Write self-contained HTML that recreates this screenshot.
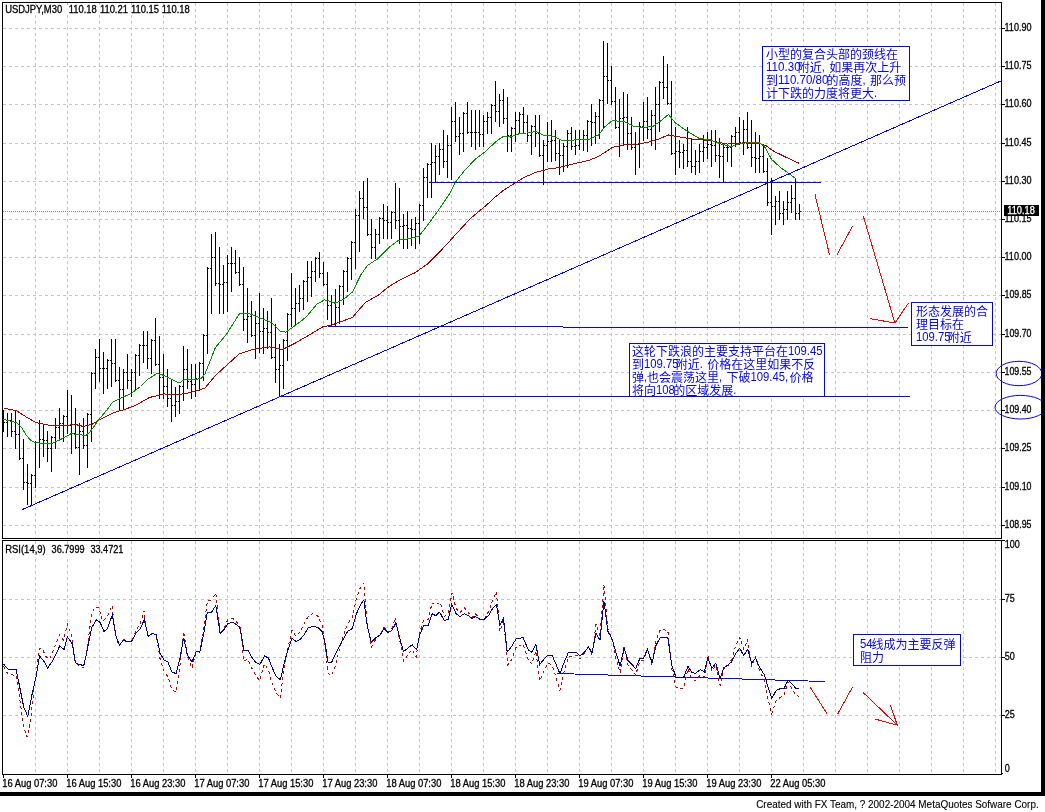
<!DOCTYPE html>
<html><head><meta charset="utf-8"><title>USDJPY M30</title>
<style>html,body{margin:0;padding:0;background:#fff;overflow:hidden}body{width:1045px;height:812px;position:relative}</style>
</head><body>
<svg width="1045" height="812" viewBox="0 0 1045 812" style="position:absolute;left:0;top:0">
<rect width="1045" height="812" fill="#fff"/>
<g shape-rendering="crispEdges" stroke="#c4c4c4" stroke-width="1" stroke-dasharray="3 3" fill="none">
<path d="M35.5 3V538"/>
<path d="M35.5 541V774"/>
<path d="M67.5 3V538"/>
<path d="M67.5 541V774"/>
<path d="M99.5 3V538"/>
<path d="M99.5 541V774"/>
<path d="M131.5 3V538"/>
<path d="M131.5 541V774"/>
<path d="M163.5 3V538"/>
<path d="M163.5 541V774"/>
<path d="M195.5 3V538"/>
<path d="M195.5 541V774"/>
<path d="M227.5 3V538"/>
<path d="M227.5 541V774"/>
<path d="M259.5 3V538"/>
<path d="M259.5 541V774"/>
<path d="M291.5 3V538"/>
<path d="M291.5 541V774"/>
<path d="M323.5 3V538"/>
<path d="M323.5 541V774"/>
<path d="M355.5 3V538"/>
<path d="M355.5 541V774"/>
<path d="M387.5 3V538"/>
<path d="M387.5 541V774"/>
<path d="M419.5 3V538"/>
<path d="M419.5 541V774"/>
<path d="M451.5 3V538"/>
<path d="M451.5 541V774"/>
<path d="M483.5 3V538"/>
<path d="M483.5 541V774"/>
<path d="M515.5 3V538"/>
<path d="M515.5 541V774"/>
<path d="M547.5 3V538"/>
<path d="M547.5 541V774"/>
<path d="M579.5 3V538"/>
<path d="M579.5 541V774"/>
<path d="M611.5 3V538"/>
<path d="M611.5 541V774"/>
<path d="M643.5 3V538"/>
<path d="M643.5 541V774"/>
<path d="M675.5 3V538"/>
<path d="M675.5 541V774"/>
<path d="M707.5 3V538"/>
<path d="M707.5 541V774"/>
<path d="M739.5 3V538"/>
<path d="M739.5 541V774"/>
<path d="M771.5 3V538"/>
<path d="M771.5 541V774"/>
<path d="M803.5 3V538"/>
<path d="M803.5 541V774"/>
<path d="M835.5 3V538"/>
<path d="M835.5 541V774"/>
<path d="M867.5 3V538"/>
<path d="M867.5 541V774"/>
<path d="M899.5 3V538"/>
<path d="M899.5 541V774"/>
<path d="M931.5 3V538"/>
<path d="M931.5 541V774"/>
<path d="M963.5 3V538"/>
<path d="M963.5 541V774"/>
<path d="M995.5 3V538"/>
<path d="M995.5 541V774"/>
<path d="M3 28.5H1001"/>
<path d="M3 66.5H1001"/>
<path d="M3 104.5H1001"/>
<path d="M3 143.5H1001"/>
<path d="M3 181.5H1001"/>
<path d="M3 219.5H1001"/>
<path d="M3 257.5H1001"/>
<path d="M3 295.5H1001"/>
<path d="M3 334.5H1001"/>
<path d="M3 372.5H1001"/>
<path d="M3 410.5H1001"/>
<path d="M3 448.5H1001"/>
<path d="M3 487.5H1001"/>
<path d="M3 525.5H1001"/>
<path d="M3 599.5H1001"/>
<path d="M3 657.5H1001"/>
<path d="M3 715.5H1001"/>
</g>
<path d="M3 211.5H1001" stroke="#8c8c8c" stroke-width="1" stroke-dasharray="1 1" shape-rendering="crispEdges"/>
<g shape-rendering="crispEdges" fill="#000">
<rect x="2" y="2" width="1000" height="1" fill="#000"/>
<rect x="2" y="2" width="1" height="773" fill="#000"/>
<rect x="1001" y="2" width="1" height="773" fill="#000"/>
<rect x="2" y="538" width="1000" height="1" fill="#000"/>
<rect x="2" y="539" width="1000" height="1" fill="#fff"/>
<rect x="2" y="540" width="1000" height="1" fill="#000"/>
<rect x="2" y="774" width="1000" height="1" fill="#000"/>
<rect x="1041" y="0" width="4" height="796"/>
<rect x="0" y="792" width="1045" height="4"/>
<rect x="1002" y="28" width="3" height="1"/>
<rect x="1002" y="66" width="3" height="1"/>
<rect x="1002" y="104" width="3" height="1"/>
<rect x="1002" y="143" width="3" height="1"/>
<rect x="1002" y="181" width="3" height="1"/>
<rect x="1002" y="219" width="3" height="1"/>
<rect x="1002" y="257" width="3" height="1"/>
<rect x="1002" y="295" width="3" height="1"/>
<rect x="1002" y="334" width="3" height="1"/>
<rect x="1002" y="372" width="3" height="1"/>
<rect x="1002" y="410" width="3" height="1"/>
<rect x="1002" y="448" width="3" height="1"/>
<rect x="1002" y="487" width="3" height="1"/>
<rect x="1002" y="525" width="3" height="1"/>
<rect x="1002" y="599" width="3" height="1"/>
<rect x="1002" y="657" width="3" height="1"/>
<rect x="1002" y="715" width="3" height="1"/>
<rect x="1002" y="773" width="1" height="1"/>
<rect x="1002" y="540" width="3" height="1"/>
<rect x="3" y="775" width="1" height="3"/>
<rect x="67" y="775" width="1" height="3"/>
<rect x="131" y="775" width="1" height="3"/>
<rect x="195" y="775" width="1" height="3"/>
<rect x="259" y="775" width="1" height="3"/>
<rect x="323" y="775" width="1" height="3"/>
<rect x="387" y="775" width="1" height="3"/>
<rect x="451" y="775" width="1" height="3"/>
<rect x="515" y="775" width="1" height="3"/>
<rect x="579" y="775" width="1" height="3"/>
<rect x="643" y="775" width="1" height="3"/>
<rect x="707" y="775" width="1" height="3"/>
<rect x="771" y="775" width="1" height="3"/>
</g>
<g shape-rendering="crispEdges" fill="#000">
<rect x="3" y="410" width="1" height="22"/>
<rect x="2" y="420" width="1" height="1"/><rect x="4" y="422" width="1" height="1"/>
<rect x="7" y="413" width="1" height="24"/>
<rect x="6" y="422" width="1" height="1"/><rect x="8" y="420" width="1" height="1"/>
<rect x="11" y="413" width="1" height="24"/>
<rect x="10" y="420" width="1" height="1"/><rect x="12" y="431" width="1" height="1"/>
<rect x="15" y="411" width="1" height="38"/>
<rect x="14" y="431" width="1" height="1"/><rect x="16" y="434" width="1" height="1"/>
<rect x="19" y="420" width="1" height="40"/>
<rect x="18" y="434" width="1" height="1"/><rect x="20" y="458" width="1" height="1"/>
<rect x="23" y="439" width="1" height="51"/>
<rect x="22" y="458" width="1" height="1"/><rect x="24" y="482" width="1" height="1"/>
<rect x="27" y="464" width="1" height="41"/>
<rect x="26" y="482" width="1" height="1"/><rect x="28" y="483" width="1" height="1"/>
<rect x="31" y="474" width="1" height="31"/>
<rect x="30" y="483" width="1" height="1"/><rect x="32" y="475" width="1" height="1"/>
<rect x="35" y="441" width="1" height="47"/>
<rect x="34" y="475" width="1" height="1"/><rect x="36" y="442" width="1" height="1"/>
<rect x="39" y="420" width="1" height="48"/>
<rect x="38" y="442" width="1" height="1"/><rect x="40" y="439" width="1" height="1"/>
<rect x="43" y="425" width="1" height="32"/>
<rect x="42" y="439" width="1" height="1"/><rect x="44" y="440" width="1" height="1"/>
<rect x="47" y="431" width="1" height="31"/>
<rect x="46" y="440" width="1" height="1"/><rect x="48" y="448" width="1" height="1"/>
<rect x="51" y="436" width="1" height="36"/>
<rect x="50" y="448" width="1" height="1"/><rect x="52" y="437" width="1" height="1"/>
<rect x="55" y="418" width="1" height="31"/>
<rect x="54" y="437" width="1" height="1"/><rect x="56" y="427" width="1" height="1"/>
<rect x="59" y="408" width="1" height="32"/>
<rect x="58" y="427" width="1" height="1"/><rect x="60" y="423" width="1" height="1"/>
<rect x="63" y="415" width="1" height="27"/>
<rect x="62" y="423" width="1" height="1"/><rect x="64" y="416" width="1" height="1"/>
<rect x="67" y="390" width="1" height="44"/>
<rect x="66" y="416" width="1" height="1"/><rect x="68" y="425" width="1" height="1"/>
<rect x="71" y="395" width="1" height="59"/>
<rect x="70" y="425" width="1" height="1"/><rect x="72" y="433" width="1" height="1"/>
<rect x="75" y="408" width="1" height="41"/>
<rect x="74" y="433" width="1" height="1"/><rect x="76" y="447" width="1" height="1"/>
<rect x="79" y="423" width="1" height="52"/>
<rect x="78" y="447" width="1" height="1"/><rect x="80" y="431" width="1" height="1"/>
<rect x="83" y="418" width="1" height="31"/>
<rect x="82" y="431" width="1" height="1"/><rect x="84" y="445" width="1" height="1"/>
<rect x="87" y="413" width="1" height="55"/>
<rect x="86" y="445" width="1" height="1"/><rect x="88" y="414" width="1" height="1"/>
<rect x="91" y="372" width="1" height="70"/>
<rect x="90" y="414" width="1" height="1"/><rect x="92" y="373" width="1" height="1"/>
<rect x="95" y="349" width="1" height="40"/>
<rect x="94" y="373" width="1" height="1"/><rect x="96" y="357" width="1" height="1"/>
<rect x="99" y="339" width="1" height="43"/>
<rect x="98" y="357" width="1" height="1"/><rect x="100" y="368" width="1" height="1"/>
<rect x="103" y="352" width="1" height="42"/>
<rect x="102" y="368" width="1" height="1"/><rect x="104" y="368" width="1" height="1"/>
<rect x="107" y="359" width="1" height="30"/>
<rect x="106" y="368" width="1" height="1"/><rect x="108" y="360" width="1" height="1"/>
<rect x="111" y="339" width="1" height="48"/>
<rect x="110" y="360" width="1" height="1"/><rect x="112" y="363" width="1" height="1"/>
<rect x="115" y="339" width="1" height="43"/>
<rect x="114" y="363" width="1" height="1"/><rect x="116" y="380" width="1" height="1"/>
<rect x="119" y="367" width="1" height="43"/>
<rect x="118" y="380" width="1" height="1"/><rect x="120" y="389" width="1" height="1"/>
<rect x="123" y="369" width="1" height="41"/>
<rect x="122" y="389" width="1" height="1"/><rect x="124" y="372" width="1" height="1"/>
<rect x="127" y="354" width="1" height="35"/>
<rect x="126" y="372" width="1" height="1"/><rect x="128" y="380" width="1" height="1"/>
<rect x="131" y="369" width="1" height="28"/>
<rect x="130" y="380" width="1" height="1"/><rect x="132" y="372" width="1" height="1"/>
<rect x="135" y="354" width="1" height="37"/>
<rect x="134" y="372" width="1" height="1"/><rect x="136" y="355" width="1" height="1"/>
<rect x="139" y="344" width="1" height="32"/>
<rect x="138" y="355" width="1" height="1"/><rect x="140" y="345" width="1" height="1"/>
<rect x="143" y="331" width="1" height="32"/>
<rect x="142" y="345" width="1" height="1"/><rect x="144" y="345" width="1" height="1"/>
<rect x="147" y="331" width="1" height="38"/>
<rect x="146" y="345" width="1" height="1"/><rect x="148" y="358" width="1" height="1"/>
<rect x="151" y="339" width="1" height="35"/>
<rect x="150" y="358" width="1" height="1"/><rect x="152" y="340" width="1" height="1"/>
<rect x="155" y="318" width="1" height="48"/>
<rect x="154" y="340" width="1" height="1"/><rect x="156" y="364" width="1" height="1"/>
<rect x="159" y="336" width="1" height="63"/>
<rect x="158" y="364" width="1" height="1"/><rect x="160" y="377" width="1" height="1"/>
<rect x="163" y="354" width="1" height="45"/>
<rect x="162" y="377" width="1" height="1"/><rect x="164" y="386" width="1" height="1"/>
<rect x="167" y="369" width="1" height="38"/>
<rect x="166" y="386" width="1" height="1"/><rect x="168" y="398" width="1" height="1"/>
<rect x="171" y="380" width="1" height="42"/>
<rect x="170" y="398" width="1" height="1"/><rect x="172" y="405" width="1" height="1"/>
<rect x="175" y="387" width="1" height="30"/>
<rect x="174" y="405" width="1" height="1"/><rect x="176" y="401" width="1" height="1"/>
<rect x="179" y="385" width="1" height="29"/>
<rect x="178" y="401" width="1" height="1"/><rect x="180" y="386" width="1" height="1"/>
<rect x="183" y="346" width="1" height="55"/>
<rect x="182" y="386" width="1" height="1"/><rect x="184" y="369" width="1" height="1"/>
<rect x="187" y="349" width="1" height="40"/>
<rect x="186" y="369" width="1" height="1"/><rect x="188" y="381" width="1" height="1"/>
<rect x="191" y="364" width="1" height="35"/>
<rect x="190" y="381" width="1" height="1"/><rect x="192" y="384" width="1" height="1"/>
<rect x="195" y="364" width="1" height="33"/>
<rect x="194" y="384" width="1" height="1"/><rect x="196" y="378" width="1" height="1"/>
<rect x="199" y="362" width="1" height="29"/>
<rect x="198" y="378" width="1" height="1"/><rect x="200" y="363" width="1" height="1"/>
<rect x="203" y="334" width="1" height="47"/>
<rect x="202" y="363" width="1" height="1"/><rect x="204" y="335" width="1" height="1"/>
<rect x="207" y="267" width="1" height="87"/>
<rect x="206" y="335" width="1" height="1"/><rect x="208" y="268" width="1" height="1"/>
<rect x="211" y="234" width="1" height="80"/>
<rect x="210" y="268" width="1" height="1"/><rect x="212" y="257" width="1" height="1"/>
<rect x="215" y="232" width="1" height="54"/>
<rect x="214" y="257" width="1" height="1"/><rect x="216" y="283" width="1" height="1"/>
<rect x="219" y="247" width="1" height="67"/>
<rect x="218" y="283" width="1" height="1"/><rect x="220" y="284" width="1" height="1"/>
<rect x="223" y="265" width="1" height="49"/>
<rect x="222" y="284" width="1" height="1"/><rect x="224" y="282" width="1" height="1"/>
<rect x="227" y="255" width="1" height="57"/>
<rect x="226" y="282" width="1" height="1"/><rect x="228" y="263" width="1" height="1"/>
<rect x="231" y="247" width="1" height="45"/>
<rect x="230" y="263" width="1" height="1"/><rect x="232" y="263" width="1" height="1"/>
<rect x="235" y="250" width="1" height="24"/>
<rect x="234" y="263" width="1" height="1"/><rect x="236" y="272" width="1" height="1"/>
<rect x="239" y="257" width="1" height="29"/>
<rect x="238" y="272" width="1" height="1"/><rect x="240" y="284" width="1" height="1"/>
<rect x="243" y="267" width="1" height="64"/>
<rect x="242" y="284" width="1" height="1"/><rect x="244" y="319" width="1" height="1"/>
<rect x="247" y="288" width="1" height="55"/>
<rect x="246" y="319" width="1" height="1"/><rect x="248" y="316" width="1" height="1"/>
<rect x="251" y="301" width="1" height="36"/>
<rect x="250" y="316" width="1" height="1"/><rect x="252" y="335" width="1" height="1"/>
<rect x="255" y="311" width="1" height="48"/>
<rect x="254" y="335" width="1" height="1"/><rect x="256" y="323" width="1" height="1"/>
<rect x="259" y="293" width="1" height="60"/>
<rect x="258" y="323" width="1" height="1"/><rect x="260" y="331" width="1" height="1"/>
<rect x="263" y="308" width="1" height="46"/>
<rect x="262" y="331" width="1" height="1"/><rect x="264" y="328" width="1" height="1"/>
<rect x="267" y="311" width="1" height="38"/>
<rect x="266" y="328" width="1" height="1"/><rect x="268" y="332" width="1" height="1"/>
<rect x="271" y="298" width="1" height="61"/>
<rect x="270" y="332" width="1" height="1"/><rect x="272" y="357" width="1" height="1"/>
<rect x="275" y="324" width="1" height="59"/>
<rect x="274" y="357" width="1" height="1"/><rect x="276" y="369" width="1" height="1"/>
<rect x="279" y="344" width="1" height="53"/>
<rect x="278" y="369" width="1" height="1"/><rect x="280" y="365" width="1" height="1"/>
<rect x="283" y="339" width="1" height="50"/>
<rect x="282" y="365" width="1" height="1"/><rect x="284" y="340" width="1" height="1"/>
<rect x="287" y="313" width="1" height="48"/>
<rect x="286" y="340" width="1" height="1"/><rect x="288" y="314" width="1" height="1"/>
<rect x="291" y="273" width="1" height="54"/>
<rect x="290" y="314" width="1" height="1"/><rect x="292" y="308" width="1" height="1"/>
<rect x="295" y="288" width="1" height="38"/>
<rect x="294" y="308" width="1" height="1"/><rect x="296" y="303" width="1" height="1"/>
<rect x="299" y="285" width="1" height="27"/>
<rect x="298" y="303" width="1" height="1"/><rect x="300" y="298" width="1" height="1"/>
<rect x="303" y="280" width="1" height="30"/>
<rect x="302" y="298" width="1" height="1"/><rect x="304" y="281" width="1" height="1"/>
<rect x="307" y="261" width="1" height="41"/>
<rect x="306" y="281" width="1" height="1"/><rect x="308" y="277" width="1" height="1"/>
<rect x="311" y="261" width="1" height="36"/>
<rect x="310" y="277" width="1" height="1"/><rect x="312" y="271" width="1" height="1"/>
<rect x="315" y="257" width="1" height="25"/>
<rect x="314" y="271" width="1" height="1"/><rect x="316" y="258" width="1" height="1"/>
<rect x="319" y="252" width="1" height="26"/>
<rect x="318" y="258" width="1" height="1"/><rect x="320" y="273" width="1" height="1"/>
<rect x="323" y="262" width="1" height="24"/>
<rect x="322" y="273" width="1" height="1"/><rect x="324" y="284" width="1" height="1"/>
<rect x="327" y="272" width="1" height="48"/>
<rect x="326" y="284" width="1" height="1"/><rect x="328" y="305" width="1" height="1"/>
<rect x="331" y="295" width="1" height="32"/>
<rect x="330" y="305" width="1" height="1"/><rect x="332" y="302" width="1" height="1"/>
<rect x="335" y="289" width="1" height="38"/>
<rect x="334" y="302" width="1" height="1"/><rect x="336" y="307" width="1" height="1"/>
<rect x="339" y="285" width="1" height="39"/>
<rect x="338" y="307" width="1" height="1"/><rect x="340" y="286" width="1" height="1"/>
<rect x="343" y="270" width="1" height="35"/>
<rect x="342" y="286" width="1" height="1"/><rect x="344" y="271" width="1" height="1"/>
<rect x="347" y="257" width="1" height="35"/>
<rect x="346" y="271" width="1" height="1"/><rect x="348" y="258" width="1" height="1"/>
<rect x="351" y="241" width="1" height="39"/>
<rect x="350" y="258" width="1" height="1"/><rect x="352" y="242" width="1" height="1"/>
<rect x="355" y="209" width="1" height="60"/>
<rect x="354" y="242" width="1" height="1"/><rect x="356" y="215" width="1" height="1"/>
<rect x="359" y="191" width="1" height="61"/>
<rect x="358" y="215" width="1" height="1"/><rect x="360" y="198" width="1" height="1"/>
<rect x="363" y="181" width="1" height="38"/>
<rect x="362" y="198" width="1" height="1"/><rect x="364" y="207" width="1" height="1"/>
<rect x="367" y="178" width="1" height="58"/>
<rect x="366" y="207" width="1" height="1"/><rect x="368" y="234" width="1" height="1"/>
<rect x="371" y="219" width="1" height="40"/>
<rect x="370" y="234" width="1" height="1"/><rect x="372" y="247" width="1" height="1"/>
<rect x="375" y="229" width="1" height="30"/>
<rect x="374" y="247" width="1" height="1"/><rect x="376" y="234" width="1" height="1"/>
<rect x="379" y="217" width="1" height="27"/>
<rect x="378" y="234" width="1" height="1"/><rect x="380" y="218" width="1" height="1"/>
<rect x="383" y="204" width="1" height="35"/>
<rect x="382" y="218" width="1" height="1"/><rect x="384" y="220" width="1" height="1"/>
<rect x="387" y="206" width="1" height="33"/>
<rect x="386" y="220" width="1" height="1"/><rect x="388" y="222" width="1" height="1"/>
<rect x="391" y="211" width="1" height="28"/>
<rect x="390" y="222" width="1" height="1"/><rect x="392" y="212" width="1" height="1"/>
<rect x="395" y="183" width="1" height="46"/>
<rect x="394" y="212" width="1" height="1"/><rect x="396" y="220" width="1" height="1"/>
<rect x="399" y="188" width="1" height="56"/>
<rect x="398" y="220" width="1" height="1"/><rect x="400" y="226" width="1" height="1"/>
<rect x="403" y="214" width="1" height="35"/>
<rect x="402" y="226" width="1" height="1"/><rect x="404" y="225" width="1" height="1"/>
<rect x="407" y="211" width="1" height="38"/>
<rect x="406" y="225" width="1" height="1"/><rect x="408" y="228" width="1" height="1"/>
<rect x="411" y="219" width="1" height="27"/>
<rect x="410" y="228" width="1" height="1"/><rect x="412" y="229" width="1" height="1"/>
<rect x="415" y="217" width="1" height="32"/>
<rect x="414" y="229" width="1" height="1"/><rect x="416" y="223" width="1" height="1"/>
<rect x="419" y="204" width="1" height="40"/>
<rect x="418" y="223" width="1" height="1"/><rect x="420" y="205" width="1" height="1"/>
<rect x="423" y="168" width="1" height="53"/>
<rect x="422" y="205" width="1" height="1"/><rect x="424" y="177" width="1" height="1"/>
<rect x="427" y="163" width="1" height="35"/>
<rect x="426" y="177" width="1" height="1"/><rect x="428" y="164" width="1" height="1"/>
<rect x="431" y="143" width="1" height="55"/>
<rect x="430" y="164" width="1" height="1"/><rect x="432" y="162" width="1" height="1"/>
<rect x="435" y="145" width="1" height="38"/>
<rect x="434" y="162" width="1" height="1"/><rect x="436" y="156" width="1" height="1"/>
<rect x="439" y="143" width="1" height="32"/>
<rect x="438" y="156" width="1" height="1"/><rect x="440" y="149" width="1" height="1"/>
<rect x="443" y="130" width="1" height="38"/>
<rect x="442" y="149" width="1" height="1"/><rect x="444" y="161" width="1" height="1"/>
<rect x="447" y="135" width="1" height="43"/>
<rect x="446" y="161" width="1" height="1"/><rect x="448" y="145" width="1" height="1"/>
<rect x="451" y="107" width="1" height="73"/>
<rect x="450" y="145" width="1" height="1"/><rect x="452" y="121" width="1" height="1"/>
<rect x="455" y="102" width="1" height="40"/>
<rect x="454" y="121" width="1" height="1"/><rect x="456" y="136" width="1" height="1"/>
<rect x="459" y="117" width="1" height="38"/>
<rect x="458" y="136" width="1" height="1"/><rect x="460" y="133" width="1" height="1"/>
<rect x="463" y="112" width="1" height="40"/>
<rect x="462" y="133" width="1" height="1"/><rect x="464" y="113" width="1" height="1"/>
<rect x="467" y="102" width="1" height="32"/>
<rect x="466" y="113" width="1" height="1"/><rect x="468" y="132" width="1" height="1"/>
<rect x="471" y="110" width="1" height="37"/>
<rect x="470" y="132" width="1" height="1"/><rect x="472" y="132" width="1" height="1"/>
<rect x="475" y="110" width="1" height="40"/>
<rect x="474" y="132" width="1" height="1"/><rect x="476" y="132" width="1" height="1"/>
<rect x="479" y="110" width="1" height="37"/>
<rect x="478" y="132" width="1" height="1"/><rect x="480" y="134" width="1" height="1"/>
<rect x="483" y="115" width="1" height="32"/>
<rect x="482" y="134" width="1" height="1"/><rect x="484" y="121" width="1" height="1"/>
<rect x="487" y="112" width="1" height="22"/>
<rect x="486" y="121" width="1" height="1"/><rect x="488" y="117" width="1" height="1"/>
<rect x="491" y="104" width="1" height="30"/>
<rect x="490" y="117" width="1" height="1"/><rect x="492" y="105" width="1" height="1"/>
<rect x="495" y="81" width="1" height="41"/>
<rect x="494" y="105" width="1" height="1"/><rect x="496" y="111" width="1" height="1"/>
<rect x="499" y="94" width="1" height="33"/>
<rect x="498" y="111" width="1" height="1"/><rect x="500" y="100" width="1" height="1"/>
<rect x="503" y="89" width="1" height="35"/>
<rect x="502" y="100" width="1" height="1"/><rect x="504" y="118" width="1" height="1"/>
<rect x="507" y="97" width="1" height="55"/>
<rect x="506" y="118" width="1" height="1"/><rect x="508" y="135" width="1" height="1"/>
<rect x="511" y="127" width="1" height="25"/>
<rect x="510" y="135" width="1" height="1"/><rect x="512" y="128" width="1" height="1"/>
<rect x="515" y="112" width="1" height="30"/>
<rect x="514" y="128" width="1" height="1"/><rect x="516" y="120" width="1" height="1"/>
<rect x="519" y="112" width="1" height="22"/>
<rect x="518" y="120" width="1" height="1"/><rect x="520" y="114" width="1" height="1"/>
<rect x="523" y="107" width="1" height="27"/>
<rect x="522" y="114" width="1" height="1"/><rect x="524" y="122" width="1" height="1"/>
<rect x="527" y="115" width="1" height="27"/>
<rect x="526" y="122" width="1" height="1"/><rect x="528" y="135" width="1" height="1"/>
<rect x="531" y="125" width="1" height="30"/>
<rect x="530" y="135" width="1" height="1"/><rect x="532" y="126" width="1" height="1"/>
<rect x="535" y="115" width="1" height="32"/>
<rect x="534" y="126" width="1" height="1"/><rect x="536" y="133" width="1" height="1"/>
<rect x="539" y="115" width="1" height="42"/>
<rect x="538" y="133" width="1" height="1"/><rect x="540" y="155" width="1" height="1"/>
<rect x="543" y="140" width="1" height="45"/>
<rect x="542" y="155" width="1" height="1"/><rect x="544" y="145" width="1" height="1"/>
<rect x="547" y="122" width="1" height="40"/>
<rect x="546" y="145" width="1" height="1"/><rect x="548" y="141" width="1" height="1"/>
<rect x="551" y="120" width="1" height="42"/>
<rect x="550" y="141" width="1" height="1"/><rect x="552" y="140" width="1" height="1"/>
<rect x="555" y="130" width="1" height="31"/>
<rect x="554" y="140" width="1" height="1"/><rect x="556" y="153" width="1" height="1"/>
<rect x="559" y="139" width="1" height="36"/>
<rect x="558" y="153" width="1" height="1"/><rect x="560" y="155" width="1" height="1"/>
<rect x="563" y="143" width="1" height="29"/>
<rect x="562" y="155" width="1" height="1"/><rect x="564" y="146" width="1" height="1"/>
<rect x="567" y="130" width="1" height="38"/>
<rect x="566" y="146" width="1" height="1"/><rect x="568" y="133" width="1" height="1"/>
<rect x="571" y="127" width="1" height="23"/>
<rect x="570" y="133" width="1" height="1"/><rect x="572" y="146" width="1" height="1"/>
<rect x="575" y="130" width="1" height="25"/>
<rect x="574" y="146" width="1" height="1"/><rect x="576" y="145" width="1" height="1"/>
<rect x="579" y="130" width="1" height="20"/>
<rect x="578" y="145" width="1" height="1"/><rect x="580" y="139" width="1" height="1"/>
<rect x="583" y="130" width="1" height="21"/>
<rect x="582" y="139" width="1" height="1"/><rect x="584" y="135" width="1" height="1"/>
<rect x="587" y="120" width="1" height="32"/>
<rect x="586" y="135" width="1" height="1"/><rect x="588" y="121" width="1" height="1"/>
<rect x="591" y="104" width="1" height="42"/>
<rect x="590" y="121" width="1" height="1"/><rect x="592" y="122" width="1" height="1"/>
<rect x="595" y="112" width="1" height="32"/>
<rect x="594" y="122" width="1" height="1"/><rect x="596" y="116" width="1" height="1"/>
<rect x="599" y="99" width="1" height="40"/>
<rect x="598" y="116" width="1" height="1"/><rect x="600" y="100" width="1" height="1"/>
<rect x="603" y="41" width="1" height="88"/>
<rect x="602" y="100" width="1" height="1"/><rect x="604" y="76" width="1" height="1"/>
<rect x="607" y="43" width="1" height="61"/>
<rect x="606" y="76" width="1" height="1"/><rect x="608" y="80" width="1" height="1"/>
<rect x="611" y="66" width="1" height="39"/>
<rect x="610" y="80" width="1" height="1"/><rect x="612" y="101" width="1" height="1"/>
<rect x="615" y="87" width="1" height="42"/>
<rect x="614" y="101" width="1" height="1"/><rect x="616" y="127" width="1" height="1"/>
<rect x="619" y="99" width="1" height="58"/>
<rect x="618" y="127" width="1" height="1"/><rect x="620" y="118" width="1" height="1"/>
<rect x="623" y="92" width="1" height="54"/>
<rect x="622" y="118" width="1" height="1"/><rect x="624" y="117" width="1" height="1"/>
<rect x="627" y="94" width="1" height="56"/>
<rect x="626" y="117" width="1" height="1"/><rect x="628" y="133" width="1" height="1"/>
<rect x="631" y="117" width="1" height="33"/>
<rect x="630" y="133" width="1" height="1"/><rect x="632" y="147" width="1" height="1"/>
<rect x="635" y="132" width="1" height="43"/>
<rect x="634" y="147" width="1" height="1"/><rect x="636" y="144" width="1" height="1"/>
<rect x="639" y="122" width="1" height="46"/>
<rect x="638" y="144" width="1" height="1"/><rect x="640" y="126" width="1" height="1"/>
<rect x="643" y="102" width="1" height="39"/>
<rect x="642" y="126" width="1" height="1"/><rect x="644" y="121" width="1" height="1"/>
<rect x="647" y="97" width="1" height="42"/>
<rect x="646" y="121" width="1" height="1"/><rect x="648" y="129" width="1" height="1"/>
<rect x="651" y="110" width="1" height="36"/>
<rect x="650" y="129" width="1" height="1"/><rect x="652" y="115" width="1" height="1"/>
<rect x="655" y="87" width="1" height="63"/>
<rect x="654" y="115" width="1" height="1"/><rect x="656" y="104" width="1" height="1"/>
<rect x="659" y="81" width="1" height="51"/>
<rect x="658" y="104" width="1" height="1"/><rect x="660" y="82" width="1" height="1"/>
<rect x="663" y="56" width="1" height="43"/>
<rect x="662" y="82" width="1" height="1"/><rect x="664" y="87" width="1" height="1"/>
<rect x="667" y="64" width="1" height="41"/>
<rect x="666" y="87" width="1" height="1"/><rect x="668" y="103" width="1" height="1"/>
<rect x="671" y="81" width="1" height="74"/>
<rect x="670" y="103" width="1" height="1"/><rect x="672" y="153" width="1" height="1"/>
<rect x="675" y="127" width="1" height="48"/>
<rect x="674" y="153" width="1" height="1"/><rect x="676" y="151" width="1" height="1"/>
<rect x="679" y="140" width="1" height="28"/>
<rect x="678" y="151" width="1" height="1"/><rect x="680" y="152" width="1" height="1"/>
<rect x="683" y="144" width="1" height="25"/>
<rect x="682" y="152" width="1" height="1"/><rect x="684" y="150" width="1" height="1"/>
<rect x="687" y="127" width="1" height="40"/>
<rect x="686" y="150" width="1" height="1"/><rect x="688" y="161" width="1" height="1"/>
<rect x="691" y="139" width="1" height="34"/>
<rect x="690" y="161" width="1" height="1"/><rect x="692" y="166" width="1" height="1"/>
<rect x="695" y="150" width="1" height="25"/>
<rect x="694" y="166" width="1" height="1"/><rect x="696" y="161" width="1" height="1"/>
<rect x="699" y="144" width="1" height="29"/>
<rect x="698" y="161" width="1" height="1"/><rect x="700" y="151" width="1" height="1"/>
<rect x="703" y="135" width="1" height="27"/>
<rect x="702" y="151" width="1" height="1"/><rect x="704" y="147" width="1" height="1"/>
<rect x="707" y="132" width="1" height="27"/>
<rect x="706" y="147" width="1" height="1"/><rect x="708" y="144" width="1" height="1"/>
<rect x="711" y="130" width="1" height="37"/>
<rect x="710" y="144" width="1" height="1"/><rect x="712" y="145" width="1" height="1"/>
<rect x="715" y="130" width="1" height="32"/>
<rect x="714" y="145" width="1" height="1"/><rect x="716" y="155" width="1" height="1"/>
<rect x="719" y="138" width="1" height="40"/>
<rect x="718" y="155" width="1" height="1"/><rect x="720" y="156" width="1" height="1"/>
<rect x="723" y="143" width="1" height="40"/>
<rect x="722" y="156" width="1" height="1"/><rect x="724" y="147" width="1" height="1"/>
<rect x="727" y="145" width="1" height="17"/>
<rect x="726" y="147" width="1" height="1"/><rect x="728" y="147" width="1" height="1"/>
<rect x="731" y="135" width="1" height="32"/>
<rect x="730" y="147" width="1" height="1"/><rect x="732" y="136" width="1" height="1"/>
<rect x="735" y="127" width="1" height="20"/>
<rect x="734" y="136" width="1" height="1"/><rect x="736" y="132" width="1" height="1"/>
<rect x="739" y="117" width="1" height="28"/>
<rect x="738" y="132" width="1" height="1"/><rect x="740" y="142" width="1" height="1"/>
<rect x="743" y="120" width="1" height="35"/>
<rect x="742" y="142" width="1" height="1"/><rect x="744" y="129" width="1" height="1"/>
<rect x="747" y="112" width="1" height="37"/>
<rect x="746" y="129" width="1" height="1"/><rect x="748" y="147" width="1" height="1"/>
<rect x="751" y="120" width="1" height="47"/>
<rect x="750" y="147" width="1" height="1"/><rect x="752" y="157" width="1" height="1"/>
<rect x="755" y="132" width="1" height="41"/>
<rect x="754" y="157" width="1" height="1"/><rect x="756" y="158" width="1" height="1"/>
<rect x="759" y="135" width="1" height="38"/>
<rect x="758" y="158" width="1" height="1"/><rect x="760" y="156" width="1" height="1"/>
<rect x="763" y="145" width="1" height="28"/>
<rect x="762" y="156" width="1" height="1"/><rect x="764" y="171" width="1" height="1"/>
<rect x="767" y="158" width="1" height="48"/>
<rect x="766" y="171" width="1" height="1"/><rect x="768" y="202" width="1" height="1"/>
<rect x="771" y="178" width="1" height="57"/>
<rect x="770" y="202" width="1" height="1"/><rect x="772" y="206" width="1" height="1"/>
<rect x="775" y="196" width="1" height="29"/>
<rect x="774" y="206" width="1" height="1"/><rect x="776" y="201" width="1" height="1"/>
<rect x="779" y="191" width="1" height="29"/>
<rect x="778" y="201" width="1" height="1"/><rect x="780" y="213" width="1" height="1"/>
<rect x="783" y="201" width="1" height="24"/>
<rect x="782" y="213" width="1" height="1"/><rect x="784" y="209" width="1" height="1"/>
<rect x="787" y="191" width="1" height="29"/>
<rect x="786" y="209" width="1" height="1"/><rect x="788" y="202" width="1" height="1"/>
<rect x="791" y="185" width="1" height="28"/>
<rect x="790" y="202" width="1" height="1"/><rect x="792" y="198" width="1" height="1"/>
<rect x="795" y="178" width="1" height="42"/>
<rect x="794" y="198" width="1" height="1"/><rect x="796" y="213" width="1" height="1"/>
<rect x="799" y="204" width="1" height="16"/>
<rect x="798" y="213" width="1" height="1"/><rect x="800" y="211" width="1" height="1"/>
</g>
<g shape-rendering="crispEdges">
<polyline points="3.5,407.9 16.5,410.8 24.5,415.9 35.7,422.5 51.7,425.8 64.5,425.5 75.5,424.5 83.5,426.5 91.9,424.3 99.3,419.9 114.1,412.5 124.5,409.5 136.2,405.1 149.5,397.5 164.3,394.0 179.1,394.5 190.5,392.5 204.8,388.3 215.5,375.4 226.4,365.5 239.3,353.8 252.2,349.5 269.5,346.9 282.5,349.5 295.4,343.0 308.3,335.5 323.4,326.5 330.5,325.5 339.5,322.2 352.4,317.5 365.3,302.5 378.2,295.3 389.0,286.5 399.5,280.2 414.5,273.0 427.5,264.0 438.5,253.2 449.4,241.4 456.5,233.5 470.5,218.5 486.1,205.5 494.1,198.0 503.8,190.0 515.0,183.1 524.5,177.2 535.8,172.4 550.5,168.4 557.3,167.9 573.1,163.9 588.8,160.5 598.5,156.5 612.5,147.4 624.3,144.8 636.1,144.4 647.9,142.3 657.5,139.5 668.5,135.0 680.2,137.1 691.5,139.0 710.5,140.5 727.0,144.1 743.5,142.9 759.5,143.5 766.5,146.0 773.5,151.1 785.5,157.0 799.1,163.3" fill="none" stroke="#a80000" stroke-width="1" />
<polyline points="3.5,419.5 16.5,422.5 21.3,427.1 26.1,435.1 30.9,440.5 35.5,442.8 51.5,443.9 61.3,439.1 70.9,433.8 78.9,434.3 85.3,435.9 90.1,431.9 99.3,419.1 108.1,408.5 112.5,402.1 120.0,398.5 131.5,393.3 140.5,386.5 148.0,379.2 156.9,373.5 164.3,375.5 171.5,379.2 179.1,382.9 185.0,379.5 195.3,379.5 201.2,378.5 204.8,374.3 215.5,347.3 226.4,334.4 239.3,313.9 250.1,313.9 260.9,318.2 271.5,322.5 280.3,331.1 285.5,332.2 295.4,325.5 306.1,317.1 316.9,304.2 324.5,299.9 330.5,301.5 335.1,303.2 343.5,299.5 352.4,292.0 361.0,274.5 367.5,265.5 378.2,258.5 389.0,247.5 398.5,240.3 410.5,238.5 419.2,236.0 427.5,225.2 438.5,210.1 449.3,194.0 455.7,182.0 463.7,171.5 474.9,159.5 484.5,152.3 495.7,141.9 503.8,136.0 510.2,137.1 519.8,133.5 529.4,132.8 535.8,131.5 543.8,135.5 550.5,136.0 553.4,136.3 563.2,140.9 575.0,139.9 588.8,139.5 598.5,135.0 604.5,127.1 612.5,120.5 624.3,121.8 634.1,126.5 644.0,127.5 653.5,126.1 661.5,120.2 668.5,114.5 675.5,123.0 687.2,131.2 698.9,138.3 710.5,139.9 722.3,144.5 731.5,146.5 741.0,143.5 750.5,142.2 759.5,142.9 764.5,146.5 771.5,159.3 780.5,167.5 790.2,174.5 796.5,179.2" fill="none" stroke="#009000" stroke-width="1" />
</g>
<g shape-rendering="crispEdges" stroke="#0000ff" stroke-width="1" fill="none">
<path d="M22.5 509.5L1001 80.9"/>
<path d="M429 182.5H821"/>
<path d="M328 326.6L908 327.6"/>
<path d="M279 396.5H910"/>
<path d="M557.5 673.5L825 681.5"/>
</g>
<g stroke="#0000ff" stroke-width="1" fill="none">
<ellipse cx="1019" cy="373.5" rx="22.8" ry="12.2"/>
<ellipse cx="1020.5" cy="407.2" rx="25.5" ry="11.8"/>
</g>
<rect x="1041" y="0" width="4" height="796" fill="#000"/>
<g shape-rendering="crispEdges" stroke="#ff0000" stroke-width="1" fill="none">
<path d="M815 194.5L829.7 255.4"/>
<path d="M837 254.8L852.7 225.8"/>
<path d="M863.3 216L894.9 323M870.3 318.7L894.9 323L908.5 303"/>
<path d="M810 687L827.3 714.2"/>
<path d="M837.6 714.2L852.5 687"/>
<path d="M862.9 692.3L897.3 725.2M875.5 719.2L897.3 725.2L890.4 705"/>
</g>
<g shape-rendering="crispEdges">
<polyline points="3.5,666.5 8.1,674.2 16.1,675.5 20.2,702.0 23.7,727.2 27.0,737.3 30.3,722.2 34.5,684.3 39.5,649.0 42.1,648.5 45.9,656.5 49.7,659.1 54.8,646.5 59.8,634.4 63.5,640.2 67.4,624.3 71.2,633.9 74.9,661.5 80.0,666.2 83.8,667.9 87.5,646.5 91.3,616.2 95.1,606.5 98.9,608.1 102.7,621.2 107.5,616.2 112.0,605.5 115.3,633.9 119.1,646.5 123.5,639.5 127.9,641.5 131.5,641.5 136.4,629.5 140.4,623.5 143.9,610.7 147.8,636.3 152.2,633.0 156.1,634.4 160.1,659.0 164.0,670.8 167.9,676.7 171.9,689.5 175.8,692.1 179.8,666.9 183.7,631.8 187.5,657.0 192.0,667.9 196.5,651.1 199.8,651.5 203.4,631.4 207.3,601.5 211.3,599.9 215.8,593.0 220.1,633.8 224.1,627.5 228.0,619.5 232.9,618.5 237.9,623.5 240.5,628.5 243.8,661.0 247.7,659.0 251.7,667.9 255.5,674.8 259.5,680.7 264.5,663.9 268.4,669.8 272.3,684.5 276.3,692.9 280.2,698.0 283.8,670.8 288.1,647.2 292.0,630.5 296.0,636.3 300.4,631.4 304.4,623.5 308.3,616.1 313.2,613.3 318.2,616.5 322.1,625.5 325.1,645.2 328.0,672.8 331.0,675.7 334.9,667.9 337.9,655.1 342.8,637.3 347.7,623.5 352.2,617.5 356.5,597.9 360.5,587.1 363.9,583.2 366.8,621.5 371.3,647.2 376.3,638.3 380.2,634.4 383.8,627.1 388.1,632.4 392.0,628.5 395.5,617.5 399.5,639.3 403.9,661.0 407.8,655.1 412.1,649.2 416.1,657.0 419.5,633.4 423.5,620.5 428.5,619.2 432.0,602.9 435.8,604.8 440.3,602.3 444.2,616.5 448.2,612.7 452.1,593.0 456.1,608.8 460.0,612.7 464.4,607.8 468.4,612.7 472.3,617.5 475.3,613.7 480.2,619.2 484.1,619.5 489.1,610.7 493.0,598.9 496.4,592.0 499.9,631.5 503.5,619.5 507.8,664.9 512.1,659.0 516.1,647.2 523.1,644.2 528.5,660.0 531.8,663.9 535.8,651.1 539.7,680.7 544.2,670.8 548.2,662.9 552.1,664.9 560.0,690.5 563.9,672.8 568.3,657.0 576.7,655.1 580.1,659.0 584.5,653.1 588.5,646.2 591.9,655.1 596.0,624.5 600.0,635.4 603.9,584.5 607.9,628.5 612.2,640.3 616.1,659.0 620.1,672.8 624.0,647.2 627.9,665.1 635.7,675.0 639.7,661.2 643.5,660.2 647.5,648.3 652.1,665.1 656.0,640.5 660.0,630.5 663.9,629.2 667.9,631.5 671.8,669.0 675.8,686.8 679.7,689.1 683.5,688.4 688.0,669.0 691.9,678.9 695.5,680.5 700.4,675.0 704.3,676.9 707.9,655.5 711.8,671.0 715.8,665.1 720.1,685.8 723.5,669.0 728.0,665.5 731.9,659.2 735.9,645.4 739.8,637.1 743.7,649.3 747.7,639.9 751.5,666.1 755.5,657.2 759.5,671.0 764.5,679.9 767.8,698.5 771.7,714.0 776.3,700.5 780.2,697.5 784.1,694.5 788.1,681.9 792.0,688.7 796.0,695.1 799.3,696.5" fill="none" stroke="#c80000" stroke-width="1" stroke-dasharray="3 3"/>
<polyline points="3.5,664.1 8.1,669.2 16.1,669.2 20.2,689.4 23.7,707.0 27.8,716.5 32.0,694.5 35.8,678.0 39.5,656.1 43.4,660.4 47.7,667.9 52.2,661.5 59.8,646.0 64.1,649.5 67.4,636.9 72.4,644.0 75.5,662.9 79.2,664.5 83.8,665.5 87.5,649.0 91.8,627.5 96.4,620.0 100.2,622.5 104.0,631.5 107.5,628.5 112.3,614.9 116.1,636.5 119.5,645.2 123.5,640.2 127.9,641.9 131.5,641.5 136.4,632.4 140.4,628.5 144.3,619.5 148.2,636.3 152.2,633.8 156.1,634.4 160.1,653.1 164.0,660.0 167.9,662.0 171.9,671.8 176.2,673.8 179.8,659.0 183.7,637.7 187.5,655.1 192.0,662.0 196.5,651.1 199.8,652.1 203.4,635.4 207.3,612.7 211.3,612.7 215.8,605.5 220.1,633.4 224.1,629.5 228.0,623.5 232.9,622.5 237.9,625.5 240.5,629.5 243.8,650.1 247.7,650.1 251.7,657.0 255.5,662.0 259.9,664.5 264.5,656.0 268.4,658.0 272.3,667.9 276.3,676.7 280.5,679.7 284.2,662.9 288.1,649.2 292.0,638.3 296.0,641.3 300.4,639.3 304.4,634.4 308.3,627.5 313.2,626.5 318.2,627.5 322.1,631.4 325.1,643.2 328.0,662.0 331.4,662.9 335.9,653.1 340.8,643.2 347.7,631.4 352.2,628.5 356.5,613.7 360.5,604.8 363.9,599.9 366.8,623.5 371.3,642.3 376.3,637.3 380.2,635.0 383.8,628.5 388.1,632.4 392.0,630.4 396.0,622.5 399.5,637.3 403.5,651.5 407.8,648.2 412.1,644.8 416.7,649.5 419.5,635.4 423.5,625.9 428.5,625.1 432.0,613.7 435.8,615.7 439.7,612.1 444.2,620.5 448.2,619.5 451.7,604.2 456.1,613.7 460.0,616.5 464.4,613.7 468.4,615.7 472.3,618.5 475.3,616.5 480.2,619.5 484.1,619.5 489.1,614.7 493.0,607.8 496.4,604.8 499.9,625.5 503.5,618.5 507.2,652.1 511.7,646.2 516.1,638.9 523.1,637.7 528.5,650.1 531.8,652.1 535.8,644.2 539.7,664.5 544.2,659.0 548.2,655.1 552.1,655.1 560.0,673.8 563.9,662.9 568.3,652.7 576.7,652.7 580.1,656.0 584.5,652.1 588.5,646.8 591.9,653.1 596.0,633.4 600.0,640.3 603.9,600.9 607.9,631.4 612.2,639.3 616.1,653.1 620.1,665.9 624.0,648.2 627.9,660.2 635.7,668.5 639.7,658.8 643.5,658.2 647.5,649.3 652.1,662.7 656.0,645.4 660.0,637.9 667.9,637.9 671.8,665.1 676.2,677.9 683.5,677.9 688.0,666.1 691.9,672.5 695.5,673.4 700.4,669.5 704.3,672.0 707.9,657.5 711.8,668.5 715.8,663.1 720.1,678.5 723.5,668.1 728.0,665.1 731.9,661.5 735.9,653.3 739.8,648.3 743.7,655.5 747.7,649.3 751.5,663.1 755.5,658.2 759.5,667.1 764.5,675.0 767.8,686.8 771.7,698.5 776.3,690.3 780.2,688.7 784.1,688.4 788.1,679.9 792.0,683.8 796.0,688.7 799.3,688.7" fill="none" stroke="#000090" stroke-width="1" />
</g>
<rect x="762.5" y="46.5" width="147" height="54" fill="#fff" stroke="#0000ff" stroke-width="1" shape-rendering="crispEdges"/>
<rect x="911.5" y="302.5" width="81" height="43" fill="#fff" stroke="#0000ff" stroke-width="1" shape-rendering="crispEdges"/>
<rect x="629.5" y="343.5" width="195" height="53" fill="#fff" stroke="#0000ff" stroke-width="1" shape-rendering="crispEdges"/>
<rect x="853.5" y="634.5" width="107" height="31" fill="#fff" stroke="#0000ff" stroke-width="1" shape-rendering="crispEdges"/>
<text y="58.5" font-family="'Liberation Sans','Noto Sans CJK SC',sans-serif" font-size="12" fill="#0000ff" style="white-space:pre"><tspan x="766.0" y="58.5">小型的复合头部的颈线在</tspan></text>
<text y="71.5" font-family="'Liberation Sans','Noto Sans CJK SC',sans-serif" font-size="12" fill="#0000ff" style="white-space:pre"><tspan x="766.0" y="71.1" font-size="12.4" textLength="34.6" lengthAdjust="spacingAndGlyphs">110.30</tspan><tspan x="797.8" y="71.5">附近</tspan><tspan x="821.8" y="71.1" font-size="12.4" textLength="3.1" lengthAdjust="spacingAndGlyphs">,</tspan><tspan font-size="10"> </tspan><tspan x="829.3" y="71.5">如果再次上升</tspan></text>
<text y="84.5" font-family="'Liberation Sans','Noto Sans CJK SC',sans-serif" font-size="12" fill="#0000ff" style="white-space:pre"><tspan x="766.0" y="84.5">到</tspan><tspan x="778.0" y="84.1" font-size="12.4" textLength="50.3" lengthAdjust="spacingAndGlyphs">110.70/80</tspan><tspan x="826.4" y="84.5">的高度</tspan><tspan x="862.4" y="84.1" font-size="12.4" textLength="3.1" lengthAdjust="spacingAndGlyphs">,</tspan><tspan font-size="10"> </tspan><tspan x="869.9" y="84.5">那么预</tspan></text>
<text y="97.5" font-family="'Liberation Sans','Noto Sans CJK SC',sans-serif" font-size="12" fill="#0000ff" style="white-space:pre"><tspan x="766.0" y="97.5">计下跌的力度将更大</tspan><tspan x="874.0" y="97.1" font-size="12.4" textLength="3.1" lengthAdjust="spacingAndGlyphs">.</tspan></text>
<text y="315.5" font-family="'Liberation Sans','Noto Sans CJK SC',sans-serif" font-size="12" fill="#0000ff" style="white-space:pre"><tspan x="916.0" y="315.5">形态发展的合</tspan></text>
<text y="328.5" font-family="'Liberation Sans','Noto Sans CJK SC',sans-serif" font-size="12" fill="#0000ff" style="white-space:pre"><tspan x="916.0" y="328.5">理目标在</tspan></text>
<text y="341.5" font-family="'Liberation Sans','Noto Sans CJK SC',sans-serif" font-size="12" fill="#0000ff" style="white-space:pre"><tspan x="916.0" y="341.1" font-size="12.4" textLength="34.6" lengthAdjust="spacingAndGlyphs">109.75</tspan><tspan x="947.8" y="341.5">附近</tspan></text>
<text y="355.5" font-family="'Liberation Sans','Noto Sans CJK SC',sans-serif" font-size="12" fill="#0000ff" style="white-space:pre"><tspan x="632.0" y="355.5">这轮下跌浪的主要支持平台在</tspan><tspan x="788.0" y="355.1" font-size="12.4" textLength="34.6" lengthAdjust="spacingAndGlyphs">109.45</tspan></text>
<text y="368.5" font-family="'Liberation Sans','Noto Sans CJK SC',sans-serif" font-size="12" fill="#0000ff" style="white-space:pre"><tspan x="632.0" y="368.5">到</tspan><tspan x="644.0" y="368.1" font-size="12.4" textLength="34.6" lengthAdjust="spacingAndGlyphs">109.75</tspan><tspan x="675.8" y="368.5">附近</tspan><tspan x="699.8" y="368.1" font-size="12.4" textLength="3.1" lengthAdjust="spacingAndGlyphs">.</tspan><tspan font-size="10"> </tspan><tspan x="707.3" y="368.5">价格在这里如果不反</tspan></text>
<text y="381.5" font-family="'Liberation Sans','Noto Sans CJK SC',sans-serif" font-size="12" fill="#0000ff" style="white-space:pre"><tspan x="632.0" y="381.5">弹</tspan><tspan x="644.0" y="381.1" font-size="12.4" textLength="3.1" lengthAdjust="spacingAndGlyphs">,</tspan><tspan x="646.9" y="381.5">也会震荡这里</tspan><tspan x="718.9" y="381.1" font-size="12.4" textLength="3.1" lengthAdjust="spacingAndGlyphs">,</tspan><tspan font-size="10"> </tspan><tspan x="726.4" y="381.5">下破</tspan><tspan x="750.4" y="381.1" font-size="12.4" textLength="37.7" lengthAdjust="spacingAndGlyphs">109.45,</tspan><tspan font-size="10"> </tspan><tspan x="789.6" y="381.5">价格</tspan></text>
<text y="394.5" font-family="'Liberation Sans','Noto Sans CJK SC',sans-serif" font-size="12" fill="#0000ff" style="white-space:pre"><tspan x="632.0" y="394.5">将向</tspan><tspan x="656.0" y="394.1" font-size="12.4" textLength="18.9" lengthAdjust="spacingAndGlyphs">108</tspan><tspan x="673.3" y="394.5">的区域发展</tspan><tspan x="733.3" y="394.1" font-size="12.4" textLength="3.1" lengthAdjust="spacingAndGlyphs">.</tspan></text>
<text y="648.5" font-family="'Liberation Sans','Noto Sans CJK SC',sans-serif" font-size="12" fill="#0000ff" style="white-space:pre"><tspan x="860.0" y="648.1" font-size="12.4" textLength="12.6" lengthAdjust="spacingAndGlyphs">54</tspan><tspan x="871.6" y="648.5">线成为主要反弹</tspan></text>
<text y="661.5" font-family="'Liberation Sans','Noto Sans CJK SC',sans-serif" font-size="12" fill="#0000ff" style="white-space:pre"><tspan x="860.0" y="661.5">阻力</tspan></text>
<text x="1004.5" y="31" font-family="'Liberation Sans',sans-serif" font-size="10" fill="#000" stroke="#000" stroke-width="0.3" textLength="27" lengthAdjust="spacingAndGlyphs">110.90</text>
<text x="1004.5" y="69" font-family="'Liberation Sans',sans-serif" font-size="10" fill="#000" stroke="#000" stroke-width="0.3" textLength="27" lengthAdjust="spacingAndGlyphs">110.75</text>
<text x="1004.5" y="107" font-family="'Liberation Sans',sans-serif" font-size="10" fill="#000" stroke="#000" stroke-width="0.3" textLength="27" lengthAdjust="spacingAndGlyphs">110.60</text>
<text x="1004.5" y="146" font-family="'Liberation Sans',sans-serif" font-size="10" fill="#000" stroke="#000" stroke-width="0.3" textLength="27" lengthAdjust="spacingAndGlyphs">110.45</text>
<text x="1004.5" y="184" font-family="'Liberation Sans',sans-serif" font-size="10" fill="#000" stroke="#000" stroke-width="0.3" textLength="27" lengthAdjust="spacingAndGlyphs">110.30</text>
<text x="1004.5" y="222" font-family="'Liberation Sans',sans-serif" font-size="10" fill="#000" stroke="#000" stroke-width="0.3" textLength="27" lengthAdjust="spacingAndGlyphs">110.15</text>
<text x="1004.5" y="260" font-family="'Liberation Sans',sans-serif" font-size="10" fill="#000" stroke="#000" stroke-width="0.3" textLength="27" lengthAdjust="spacingAndGlyphs">110.00</text>
<text x="1004.5" y="298" font-family="'Liberation Sans',sans-serif" font-size="10" fill="#000" stroke="#000" stroke-width="0.3" textLength="27" lengthAdjust="spacingAndGlyphs">109.85</text>
<text x="1004.5" y="337" font-family="'Liberation Sans',sans-serif" font-size="10" fill="#000" stroke="#000" stroke-width="0.3" textLength="27" lengthAdjust="spacingAndGlyphs">109.70</text>
<text x="1004.5" y="375" font-family="'Liberation Sans',sans-serif" font-size="10" fill="#000" stroke="#000" stroke-width="0.3" textLength="27" lengthAdjust="spacingAndGlyphs">109.55</text>
<text x="1004.5" y="413" font-family="'Liberation Sans',sans-serif" font-size="10" fill="#000" stroke="#000" stroke-width="0.3" textLength="27" lengthAdjust="spacingAndGlyphs">109.40</text>
<text x="1004.5" y="451" font-family="'Liberation Sans',sans-serif" font-size="10" fill="#000" stroke="#000" stroke-width="0.3" textLength="27" lengthAdjust="spacingAndGlyphs">109.25</text>
<text x="1004.5" y="490" font-family="'Liberation Sans',sans-serif" font-size="10" fill="#000" stroke="#000" stroke-width="0.3" textLength="27" lengthAdjust="spacingAndGlyphs">109.10</text>
<text x="1004.5" y="528" font-family="'Liberation Sans',sans-serif" font-size="10" fill="#000" stroke="#000" stroke-width="0.3" textLength="27" lengthAdjust="spacingAndGlyphs">108.95</text>
<rect x="1004" y="205" width="35" height="11" fill="#000" shape-rendering="crispEdges"/>
<text x="1007.3" y="214" font-family="'Liberation Sans',sans-serif" font-size="10" fill="#fff" stroke="#fff" stroke-width="0.3" textLength="27.5" lengthAdjust="spacingAndGlyphs">110.18</text>
<text x="1004.8" y="547.8" font-family="'Liberation Sans',sans-serif" font-size="10" fill="#000" stroke="#000" stroke-width="0.3" textLength="15" lengthAdjust="spacingAndGlyphs">100</text>
<text x="1004.8" y="602" font-family="'Liberation Sans',sans-serif" font-size="10" fill="#000" stroke="#000" stroke-width="0.3" textLength="10" lengthAdjust="spacingAndGlyphs">75</text>
<text x="1004.8" y="660" font-family="'Liberation Sans',sans-serif" font-size="10" fill="#000" stroke="#000" stroke-width="0.3" textLength="10" lengthAdjust="spacingAndGlyphs">50</text>
<text x="1004.8" y="718" font-family="'Liberation Sans',sans-serif" font-size="10" fill="#000" stroke="#000" stroke-width="0.3" textLength="10" lengthAdjust="spacingAndGlyphs">25</text>
<text x="1004.8" y="772" font-family="'Liberation Sans',sans-serif" font-size="10" fill="#000" stroke="#000" stroke-width="0.3" textLength="5" lengthAdjust="spacingAndGlyphs">0</text>
<rect x="5" y="5" width="186" height="10" fill="#fff"/>
<rect x="5" y="545" width="120" height="13" fill="#fff"/>
<text x="5.2" y="13" font-family="'Liberation Sans',sans-serif" font-size="10" fill="#000" stroke="#000" stroke-width="0.3" textLength="57" lengthAdjust="spacingAndGlyphs">USDJPY,M30</text>
<text x="68.7" y="13" font-family="'Liberation Sans',sans-serif" font-size="10" fill="#000" stroke="#000" stroke-width="0.3" textLength="28" lengthAdjust="spacingAndGlyphs">110.18</text>
<text x="99.9" y="13" font-family="'Liberation Sans',sans-serif" font-size="10" fill="#000" stroke="#000" stroke-width="0.3" textLength="28" lengthAdjust="spacingAndGlyphs">110.21</text>
<text x="131" y="13" font-family="'Liberation Sans',sans-serif" font-size="10" fill="#000" stroke="#000" stroke-width="0.3" textLength="28" lengthAdjust="spacingAndGlyphs">110.15</text>
<text x="161.8" y="13" font-family="'Liberation Sans',sans-serif" font-size="10" fill="#000" stroke="#000" stroke-width="0.3" textLength="28" lengthAdjust="spacingAndGlyphs">110.18</text>
<text x="5.2" y="553" font-family="'Liberation Sans',sans-serif" font-size="10" fill="#000" stroke="#000" stroke-width="0.3" textLength="40.5" lengthAdjust="spacingAndGlyphs">RSI(14,9)</text>
<text x="51.6" y="553" font-family="'Liberation Sans',sans-serif" font-size="10" fill="#000" stroke="#000" stroke-width="0.3" textLength="33" lengthAdjust="spacingAndGlyphs">36.7999</text>
<text x="90.4" y="553" font-family="'Liberation Sans',sans-serif" font-size="10" fill="#000" stroke="#000" stroke-width="0.3" textLength="33" lengthAdjust="spacingAndGlyphs">33.4721</text>
<text x="2.2" y="787.3" font-family="'Liberation Sans',sans-serif" font-size="10" fill="#000" stroke="#000" stroke-width="0.3" textLength="55.2" lengthAdjust="spacingAndGlyphs">16 Aug 07:30</text>
<text x="66.2" y="787.3" font-family="'Liberation Sans',sans-serif" font-size="10" fill="#000" stroke="#000" stroke-width="0.3" textLength="55.2" lengthAdjust="spacingAndGlyphs">16 Aug 15:30</text>
<text x="130.2" y="787.3" font-family="'Liberation Sans',sans-serif" font-size="10" fill="#000" stroke="#000" stroke-width="0.3" textLength="55.2" lengthAdjust="spacingAndGlyphs">16 Aug 23:30</text>
<text x="194.2" y="787.3" font-family="'Liberation Sans',sans-serif" font-size="10" fill="#000" stroke="#000" stroke-width="0.3" textLength="55.2" lengthAdjust="spacingAndGlyphs">17 Aug 07:30</text>
<text x="258.2" y="787.3" font-family="'Liberation Sans',sans-serif" font-size="10" fill="#000" stroke="#000" stroke-width="0.3" textLength="55.2" lengthAdjust="spacingAndGlyphs">17 Aug 15:30</text>
<text x="322.2" y="787.3" font-family="'Liberation Sans',sans-serif" font-size="10" fill="#000" stroke="#000" stroke-width="0.3" textLength="55.2" lengthAdjust="spacingAndGlyphs">17 Aug 23:30</text>
<text x="386.2" y="787.3" font-family="'Liberation Sans',sans-serif" font-size="10" fill="#000" stroke="#000" stroke-width="0.3" textLength="55.2" lengthAdjust="spacingAndGlyphs">18 Aug 07:30</text>
<text x="450.2" y="787.3" font-family="'Liberation Sans',sans-serif" font-size="10" fill="#000" stroke="#000" stroke-width="0.3" textLength="55.2" lengthAdjust="spacingAndGlyphs">18 Aug 15:30</text>
<text x="514.2" y="787.3" font-family="'Liberation Sans',sans-serif" font-size="10" fill="#000" stroke="#000" stroke-width="0.3" textLength="55.2" lengthAdjust="spacingAndGlyphs">18 Aug 23:30</text>
<text x="578.2" y="787.3" font-family="'Liberation Sans',sans-serif" font-size="10" fill="#000" stroke="#000" stroke-width="0.3" textLength="55.2" lengthAdjust="spacingAndGlyphs">19 Aug 07:30</text>
<text x="642.2" y="787.3" font-family="'Liberation Sans',sans-serif" font-size="10" fill="#000" stroke="#000" stroke-width="0.3" textLength="55.2" lengthAdjust="spacingAndGlyphs">19 Aug 15:30</text>
<text x="706.2" y="787.3" font-family="'Liberation Sans',sans-serif" font-size="10" fill="#000" stroke="#000" stroke-width="0.3" textLength="55.2" lengthAdjust="spacingAndGlyphs">19 Aug 23:30</text>
<text x="770.2" y="787.3" font-family="'Liberation Sans',sans-serif" font-size="10" fill="#000" stroke="#000" stroke-width="0.3" textLength="55.2" lengthAdjust="spacingAndGlyphs">22 Aug 05:30</text>
<text x="756.2" y="808" font-family="'Liberation Sans',sans-serif" font-size="11.5" fill="#000" stroke="#000" stroke-width="0.12" textLength="282.5" lengthAdjust="spacingAndGlyphs">Created with FX Team, ? 2002-2004 MetaQuotes Sofware Corp.</text>
</svg>
</body></html>
